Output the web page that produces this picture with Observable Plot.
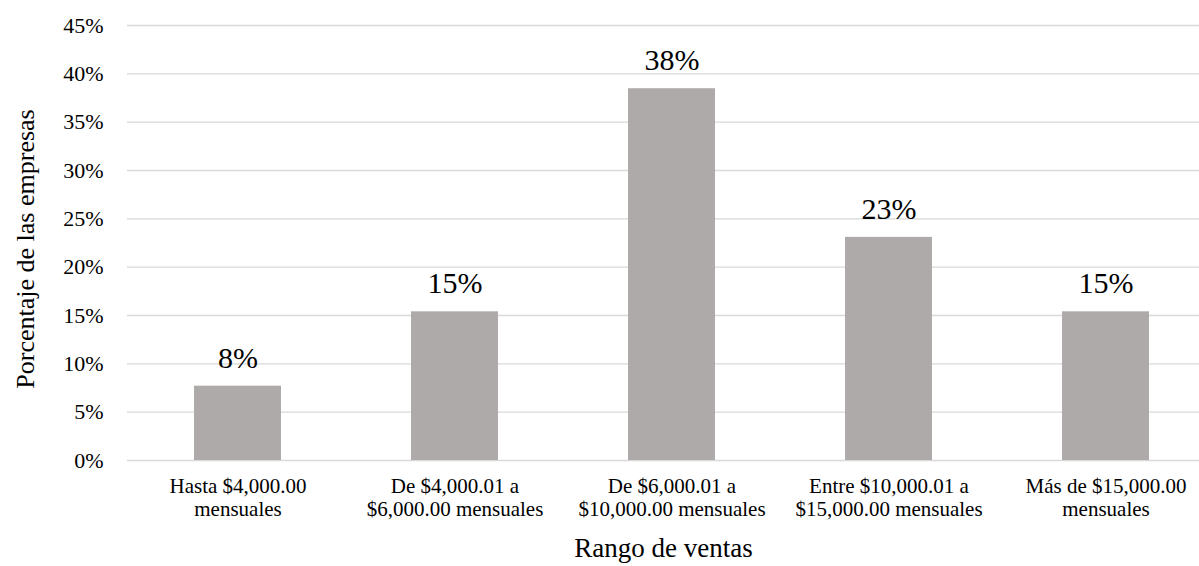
<!DOCTYPE html>
<html>
<head>
<meta charset="utf-8">
<script src="https://cdn.jsdelivr.net/npm/d3@7"></script>
<script src="https://cdn.jsdelivr.net/npm/@observablehq/plot@0.6"></script>
<style>
  html, body { margin: 0; padding: 0; background: #fff; }
  #chart svg { display: block; }
  #chart svg text, #chart svg tspan { font-family: "Liberation Serif", "Times New Roman", serif; }
</style>
</head>
<body>
<div id="chart"></div>
<script>
// Sales ranges of the surveyed companies
const rangos = [
  "Hasta $4,000.00\nmensuales",
  "De $4,000.01 a\n$6,000.00 mensuales",
  "De $6,000.01 a\n$10,000.00 mensuales",
  "Entre $10,000.01 a\n$15,000.00 mensuales",
  "Más de $15,000.00\nmensuales"
];

// Share of companies in each range
const porcentajes = [0.0769, 0.1538, 0.3846, 0.2308, 0.1538];

// Y axis ticks
const ticksY = [0, 0.05, 0.10, 0.15, 0.20, 0.25, 0.30, 0.35, 0.40, 0.45];

const datos = rangos.map((rango, i) => ({rango, valor: porcentajes[i]}));
const pct = d3.format(".0%");
const fuente = "Liberation Serif, Times New Roman, serif";

const chart = Plot.plot({
  width: 1199,
  height: 566,
  marginLeft: 127,
  marginRight: 0,
  marginTop: 25,
  marginBottom: 106,
  style: {fontFamily: fuente, color: "#000", background: "#fff"},
  x: {domain: rangos, range: [127, 1215], paddingInner: 0.6, paddingOuter: 0.3, label: null},
  y: {domain: [0, 0.45], label: null},
  marks: [
    Plot.ruleY(ticksY, {stroke: "#d9d9d9", strokeWidth: 1.3}),
    Plot.barY(datos, {x: "rango", y: "valor", fill: "#aeaaaa"}),
    Plot.text(datos, {
      x: "rango", y: "valor", text: d => pct(d.valor),
      fontSize: 30, fontFamily: fuente, fill: "#000", lineAnchor: "middle", dy: -28
    }),
    Plot.axisY({
      ticks: ticksY, tickFormat: pct, tickSize: 0, tickPadding: 24,
      fontSize: 22, fontFamily: fuente, label: null, fill: "#000"
    }),
    Plot.axisX({
      tickSize: 0, tickPadding: 16, fontSize: 21, fontFamily: fuente, lineHeight: 1.1,
      label: null, fill: "#000"
    }),
    Plot.text(["Porcentaje de las empresas"], {
      frameAnchor: "left", dx: -102, dy: 6, rotate: -90, fontSize: 26, fontFamily: fuente,
      textAnchor: "middle", lineAnchor: "middle", fill: "#000"
    }),
    Plot.text(["Rango de ventas"], {
      frameAnchor: "bottom", dy: 88, fontSize: 27, fontFamily: fuente,
      textAnchor: "middle", lineAnchor: "middle", fill: "#000"
    })
  ]
});

document.getElementById("chart").appendChild(chart);
</script>
</body>
</html>
